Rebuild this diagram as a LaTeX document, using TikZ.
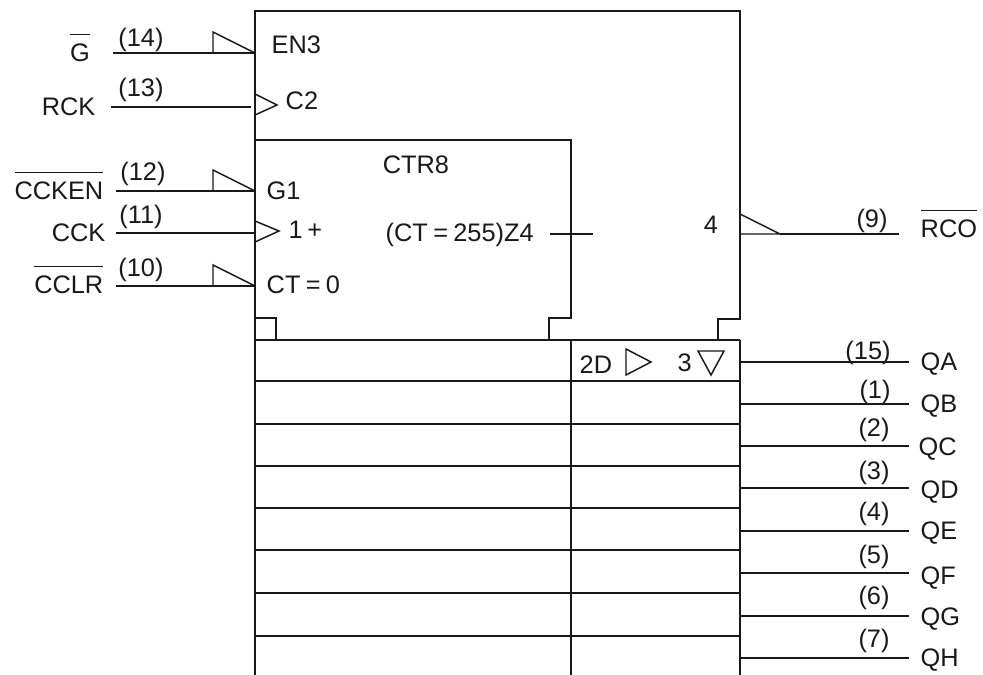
\documentclass[tikz,border=0pt]{standalone}
\usepackage{fontspec}
\setmainfont{Liberation Sans}
\def\ovl#1{\vbox{\hrule height .8pt \kern 6.4pt \hbox{#1}}}
\def\eqq{\kern 4pt=\kern 4pt}
\begin{document}
\begin{tikzpicture}[x=0.75pt,y=-0.75pt,line width=1.1pt,line join=miter,
  lbl/.style={inner sep=0pt,font=\fontsize{19}{21}\selectfont,text=black!90},
  wire/.style={draw=black!90},
  sym/.style={draw=black!90,line width=1.1pt}]
\useasboundingbox (0,0) rectangle (983,675);
% outer and inner bodies
\draw[wire] (255,340) -- (255,11) -- (740,11) -- (740,319) -- (718,319) -- (718,340);
\draw[wire] (255,318) -- (276,318) -- (276,340);
\draw[wire] (255,140) -- (571,140) -- (571,318) -- (549,318) -- (549,340);
% register
\draw[wire] (255,340) -- (255,675) (571,340) -- (571,675) (740,340) -- (740,675);
\foreach \yy in {340,381,424,466,508,550,593,636}
  \draw[wire] (255,\yy) -- (740,\yy);
% input names
\node[lbl,anchor=base] (nG) at (80,61) {\ovl{G}};
\node[lbl,anchor=base east] (nRCK) at (96,115) {RCK};
\node[lbl,anchor=base east] (nCCKEN) at (104,199) {\ovl{CCKEN}};
\node[lbl,anchor=base east] (nCCK) at (106,241) {CCK};
\node[lbl,anchor=base east] (nCCLR) at (104,293) {\ovl{CCLR}};
% input pins
\coordinate (pG) at (255,53); \coordinate (pRCK) at (251,107);
\coordinate (pEN) at (255,191); \coordinate (pCCK) at (255,233);
\coordinate (pCLR) at (255,286);
\draw[wire] (113,53) -- (pG);
\draw[wire] (111,107) -- (pRCK);
\draw[wire] (116,191) -- (pEN);
\draw[wire] (116,233) -- (pCCK);
\draw[wire] (116,286) -- (pCLR);
\draw[sym] (213,53) -- (213,32) -- (pG);
\draw[sym] (213,191) -- (213,170) -- (pEN);
\draw[sym] (213,286) -- (213,265) -- (pCLR);
\draw[sym] (255,94) -- (277,105) -- (255,115);
\draw[sym] (255,221) -- (279,231) -- (255,242);
% pin numbers
\node[lbl,anchor=base] (n14) at (141,46) {(14)};
\node[lbl,anchor=base] (n13) at (141,96) {(13)};
\node[lbl,anchor=base] (n12) at (143,180) {(12)};
\node[lbl,anchor=base] (n11) at (141,223) {(11)};
\node[lbl,anchor=base] (n10) at (141,276) {(10)};
% inside labels
\node[lbl,anchor=base west] (tEN) at (271,53) {EN3};
\node[lbl,anchor=base west] (tC2) at (285,109) {C2};
\node[lbl,anchor=base west] (tG1) at (266,199) {G1};
\node[lbl,anchor=base west] (t1p) at (288,238) {1\kern 3.5pt+};
\node[lbl,anchor=base west] (tCT) at (266,293) {CT\eqq 0};
\node[lbl,anchor=base] (tCTR) at (416,173) {CTR8};
\node[lbl,anchor=base west] (tZ4) at (385,241) {(CT\eqq 255)Z4};
\draw[wire] (550,234) -- (593,234);
\node[lbl,anchor=base] (t4) at (711,233) {4};
% RCO
\coordinate (pRCO) at (780,234);
\draw[sym] (740,214) -- (pRCO) -- (740,234);
\draw[wire] (pRCO) -- (899,234);
\node[lbl,anchor=base] (n9) at (872,227) {(9)};
\node[lbl,anchor=base west] (nRCO) at (920,237) {\ovl{RCO}};
% register first-row symbols
\node[lbl,anchor=base west] (t2D) at (579,373) {2D};
\draw[sym] (626,349) -- (651,362) -- (626,375) -- cycle;
\node[lbl,anchor=base west] (t3) at (677,371) {3};
\draw[sym] (698,351) -- (724,351) -- (711,375) -- cycle;
% outputs
\foreach \nm/\num/\yy/\nx/\ny/\qx/\qy in {QA/(15)/362/868/359/920/370, QB/(1)/404/875/398/920/412, QC/(2)/446/874/436/918/455, QD/(3)/488/874/479/920/498, QE/(4)/531/874/520/920/539, QF/(5)/573/874/563/920/584, QG/(6)/616/874/604/920/625, QH/(7)/658/874/647/920/666}{
  \draw[wire] (740,\yy) -- (909,\yy);
  \node[lbl,anchor=base] (p\nm) at (\nx,\ny) {\num};
  \node[lbl,anchor=base west] (q\nm) at (\qx,\qy) {\nm};
}
\end{tikzpicture}
\end{document}
